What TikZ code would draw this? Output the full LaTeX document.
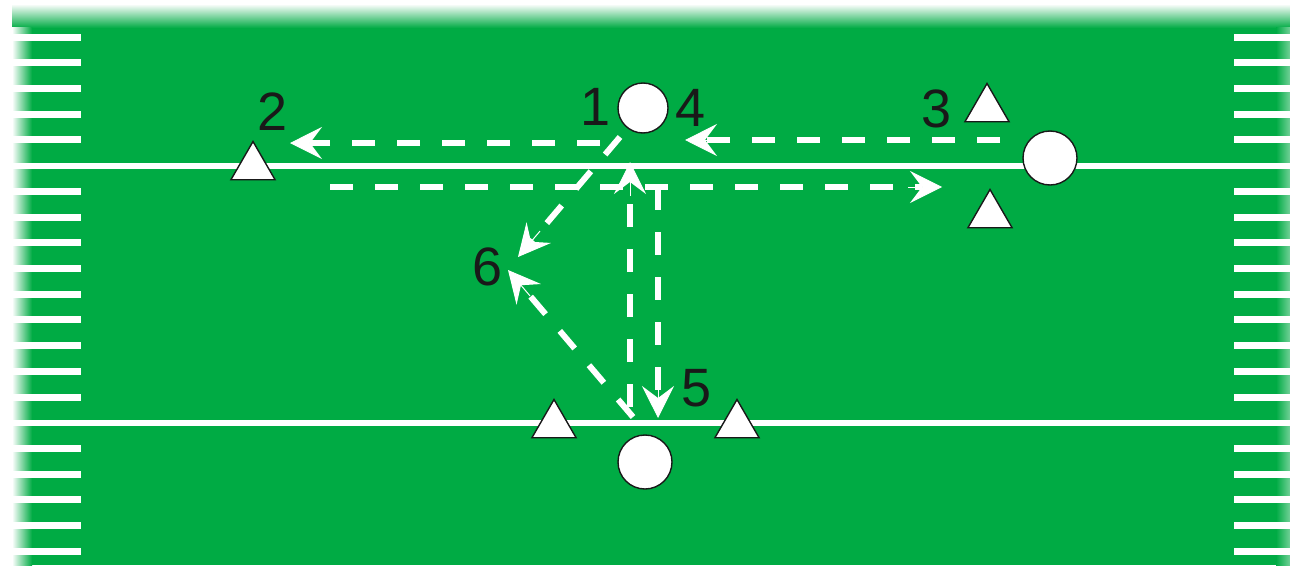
\documentclass[tikz,border=0pt]{standalone}
\usepackage{fontspec}
\setmainfont{Liberation Sans}
\usetikzlibrary{arrows.meta,shapes.geometric,calc}
\definecolor{fieldgreen}{RGB}{0,171,68}
\definecolor{ink}{RGB}{25,25,25}
\tikzset{
  player/.style={circle, draw=ink, line width=1.4pt, fill=white, inner sep=0pt, minimum size=#1},
  cone/.style={regular polygon, regular polygon sides=3, draw=ink, line width=1.4pt, fill=white, inner sep=0pt, minimum size=51pt},
  num/.style={text=ink, inner sep=0pt, font=\fontsize{54}{54}\selectfont},
  route/.style={draw=white, line width=6pt, dash pattern=on 23pt off 22pt, shorten >=20pt},
  tip/.style={draw=white, line width=1pt, -{Stealth[length=32pt,width=32pt,inset=12pt]}},
  hash/.style={white, line width=7pt},
  yardline/.style={white, line width=6pt}
}
\newcommand{\playroute}[2]{%
  \draw[route] (#1) -- (#2);
  \draw[tip] ($(#2)!34pt!(#1)$) -- (#2);
}
\begin{document}
\begin{tikzpicture}[x=1pt,y=-1pt]
\useasboundingbox (0,0) rectangle (1290,565);
\fill[white] (0,0) rectangle (1290,565);
\fill[fieldgreen] (12,20) rectangle (1290,565);
\shade[top color=white, bottom color=fieldgreen] (12,4) rectangle (1290,28);
\shade[left color=white, right color=fieldgreen] (12,27) rectangle (32,565);
\shade[left color=fieldgreen, right color=white!45!fieldgreen] (1276,27) rectangle (1290,565);
% hash marks and yard lines
\foreach \i in {0,...,20}{
  \pgfmathsetmacro{\yy}{37+25.72*\i}
  \ifnum\i=5
    \draw[yardline] (12,\yy) -- (1290,\yy);
  \else\ifnum\i=15
    \draw[yardline] (12,\yy) -- (1290,\yy);
  \else
    \draw[hash] (13,\yy) -- (81,\yy);
    \draw[hash] (1234,\yy) -- (1290,\yy);
  \fi\fi
}
% route end points
\coordinate (r2s) at (600,143);   \coordinate (r2e) at (290,143);
\coordinate (r4s) at (1000,140);  \coordinate (r4e) at (685,140);
\coordinate (rRs) at (330,187);   \coordinate (rRe) at (942,187);
\coordinate (r6as) at (620,137);  \coordinate (r6ae) at (518,257);
\coordinate (r6bs) at (633,417);  \coordinate (r6be) at (508,270);
\coordinate (rUs) at (630,407);   \coordinate (rUe) at (630,162);
\coordinate (rDs) at (658,187);   \coordinate (rDe) at (658,418);
% routes
\playroute{r2s}{r2e}
\playroute{r4s}{r4e}
\playroute{rRs}{rRe}
\playroute{r6as}{r6ae}
\playroute{r6bs}{r6be}
\playroute{rUs}{rUe}
\playroute{rDs}{rDe}
% players
\node[player=50pt] (c1) at (643,108) {};
\node[player=54pt] (c3) at (1050,158) {};
\node[player=54pt] (c5) at (645,462) {};
% cones
\node[cone] (t2) at (253,167) {};
\node[cone] (t3a) at (987,109) {};
\node[cone] (t3b) at (990,215) {};
\node[cone] (t5a) at (554,425) {};
\node[cone] (t5b) at (737,425) {};
% labels
\node[num] (n1) at (596,107) {1};
\node[num] (n2) at (273,112) {2};
\node[num] (n3) at (937,109) {3};
\node[num] (n4) at (691,108) {4};
\node[num] (n5) at (697,388) {5};
\node[num] (n6) at (488,267) {6};
\end{tikzpicture}
\end{document}
